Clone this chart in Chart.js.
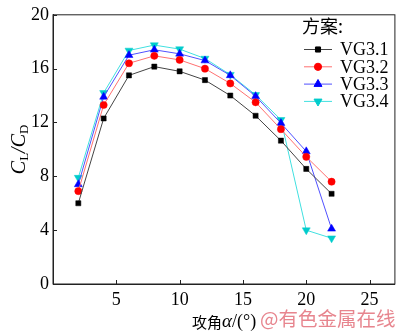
<!DOCTYPE html>
<html>
<head>
<meta charset="utf-8">
<script src="https://cdn.jsdelivr.net/npm/chart.js@4.4.1/dist/chart.umd.min.js"></script>
<style>
  html, body { margin: 0; padding: 0; background: #fff; }
  #wrap { width: 400px; height: 333px; }
</style>
</head>
<body>
<div id="wrap"><canvas id="c" width="400" height="333"></canvas></div>
<script>
// angle of attack, deg
const angles = [2, 4, 6, 8, 10, 12, 14, 16, 18, 20, 22];
const seriesNames = ['VG3.1', 'VG3.2', 'VG3.3', 'VG3.4'];
const vg31 = [6.0, 12.3, 15.5, 16.15, 15.8, 15.15, 14.0, 12.5, 10.65, 8.55, 6.7];
const vg32 = [6.9, 13.3, 16.4, 16.95, 16.65, 16.0, 14.9, 13.5, 11.5, 9.45, 7.6];
const vg33 = [7.4, 13.9, 17.0, 17.4, 17.1, 16.6, 15.5, 13.95, 11.95, 9.85, 4.1];
const vg34 = [7.9, 14.2, 17.35, 17.75, 17.45, 16.75, 15.55, 14.05, 12.2, 4.0, 3.4];
const xTicks = [0, 5, 10, 15, 20, 25];
const yTicks = [0, 4, 8, 12, 16, 20];

const serif = '"Liberation Serif", "Times New Roman", serif';
const cjk = '"Noto Sans CJK SC", "Noto Sans", sans-serif';

function pts(vals) {
    return angles.map((a, i) => ({ x: a, y: vals[i] }));
}

const styles = [
    { line: '#444444', fill: '#000000', shape: 'rect', r: 3.6, rot: 0 },
    { line: '#ff7070', fill: '#ff0000', shape: 'circle', r: 3.6, rot: 0 },
    { line: '#5050ff', fill: '#0000ff', shape: 'triangle', r: 4.6, rot: 0 },
    { line: '#40e0e0', fill: '#00cccc', shape: 'triangle', r: 4.6, rot: 180 },
];

const allVals = [vg31, vg32, vg33, vg34];
const datasets = allVals.map((v, i) => ({
    label: seriesNames[i],
    data: pts(v),
    borderColor: styles[i].line,
    borderWidth: 1,
    backgroundColor: styles[i].fill,
    pointBackgroundColor: styles[i].fill,
    pointBorderColor: styles[i].fill,
    pointBorderWidth: 0.5,
    pointStyle: styles[i].shape,
    pointRadius: styles[i].r,
    pointRotation: styles[i].rot,
    tension: 0,
}));

// frame, inward ticks, axis titles, legend
const decor = {
    id: 'decor',
    afterDraw(chart) {
        const ctx = chart.ctx;
        const a = chart.chartArea;
        const xs = chart.scales.x, ys = chart.scales.y;
        ctx.save();
        ctx.strokeStyle = '#222';
        ctx.lineWidth = 1;
        ctx.strokeRect(a.left, a.top, a.right - a.left, a.bottom - a.top);
        ctx.beginPath();
        xTicks.forEach(v => {
            const px = Math.round(xs.getPixelForValue(v)) + 0.5;
            ctx.moveTo(px, a.bottom);
            ctx.lineTo(px, a.bottom - 4);
        });
        yTicks.forEach(v => {
            const py = Math.round(ys.getPixelForValue(v)) + 0.5;
            ctx.moveTo(a.left, py);
            ctx.lineTo(a.left + 4, py);
        });
        ctx.stroke();

        // y title C_L/C_D
        ctx.fillStyle = '#000';
        ctx.translate(20, (a.top + a.bottom) / 2);
        ctx.rotate(-Math.PI / 2);
        const parts = [
            ['C', 'italic 20px ' + serif, 0],
            ['L', '13px ' + serif, 5],
            ['/', 'italic 20px ' + serif, 0],
            ['C', 'italic 20px ' + serif, 0],
            ['D', '13px ' + serif, 5],
        ];
        let w = 0;
        parts.forEach(p => { ctx.font = p[1]; w += ctx.measureText(p[0]).width; });
        let cx = -w / 2;
        ctx.textBaseline = 'middle';
        ctx.textAlign = 'left';
        parts.forEach(p => {
            ctx.font = p[1];
            ctx.fillText(p[0], cx, p[2]);
            cx += ctx.measureText(p[0]).width;
        });
        ctx.restore();

        // x title
        ctx.save();
        ctx.fillStyle = '#000';
        ctx.textBaseline = 'middle';
        ctx.textAlign = 'left';
        let x = 192;
        const ty = 322;
        ctx.font = '15px ' + cjk;
        ctx.fillText('攻角', x, ty);
        x += ctx.measureText('攻角').width;
        ctx.font = 'italic 19px ' + serif;
        ctx.fillText('α', x, ty);
        x += ctx.measureText('α').width;
        ctx.font = '18px ' + serif;
        ctx.fillText('/(°)', x, ty);
        ctx.fillStyle = 'rgba(228,120,130,0.9)';
        ctx.font = '19.5px ' + cjk;
        ctx.fillText('@有色金属在线', 260, ty - 3);

        // legend
        ctx.fillStyle = '#000';
        ctx.font = '18px ' + cjk;
        ctx.fillText('方案:', 302, 26);
        ctx.font = '18px ' + serif;
        chart.data.datasets.forEach((ds, i) => {
            const ly = 49.5 + i * 17.3;
            ctx.strokeStyle = ds.borderColor;
            ctx.lineWidth = 1;
            ctx.beginPath();
            ctx.moveTo(304, ly);
            ctx.lineTo(332, ly);
            ctx.stroke();
            ctx.fillStyle = ds.pointBackgroundColor;
            ctx.strokeStyle = ds.pointBackgroundColor;
            Chart.helpers.drawPoint(ctx, {
                pointStyle: ds.pointStyle,
                radius: ds.pointRadius,
                rotation: ds.pointRotation,
                borderWidth: 0.5,
            }, 318, ly);
            ctx.fillStyle = '#000';
            ctx.fillText(ds.label, 340, ly + 1);
        });
        ctx.restore();
    }
};

function draw() {
    Chart.defaults.font.family = serif;
    new Chart(document.getElementById('c').getContext('2d'), {
        type: 'line',
        data: { datasets },
        options: {
            responsive: false,
            animation: false,
            layout: { padding: { top: 6, right: 3, left: 0, bottom: 0 } },
            plugins: { legend: { display: false }, tooltip: { enabled: false } },
            scales: {
                x: {
                    type: 'linear',
                    min: 0,
                    max: 27,
                    afterBuildTicks: s => { s.ticks = xTicks.filter(v => v > 0).map(v => ({ value: v })); },
                    afterFit: s => { s.height = 49; },
                    grid: { display: false, drawTicks: false },
                    border: { display: true, color: '#222' },
                    ticks: { color: '#000', font: { family: serif, size: 18 }, padding: 5, maxRotation: 0 },
                },
                y: {
                    min: 0,
                    max: 20,
                    afterBuildTicks: s => { s.ticks = yTicks.map(v => ({ value: v })); },
                    afterFit: s => { s.width = 53; },
                    grid: { display: false, drawTicks: false },
                    border: { display: true, color: '#222' },
                    ticks: { color: '#000', font: { family: serif, size: 18 }, padding: 4 },
                },
            },
        },
        plugins: [decor],
    });
}

Promise.all([
    document.fonts.load('18px "Liberation Serif"'),
    document.fonts.load('italic 20px "Liberation Serif"'),
    document.fonts.load('18px "Noto Sans CJK SC"', '方案攻角'),
]).then(draw, draw);
</script>
</body>
</html>
